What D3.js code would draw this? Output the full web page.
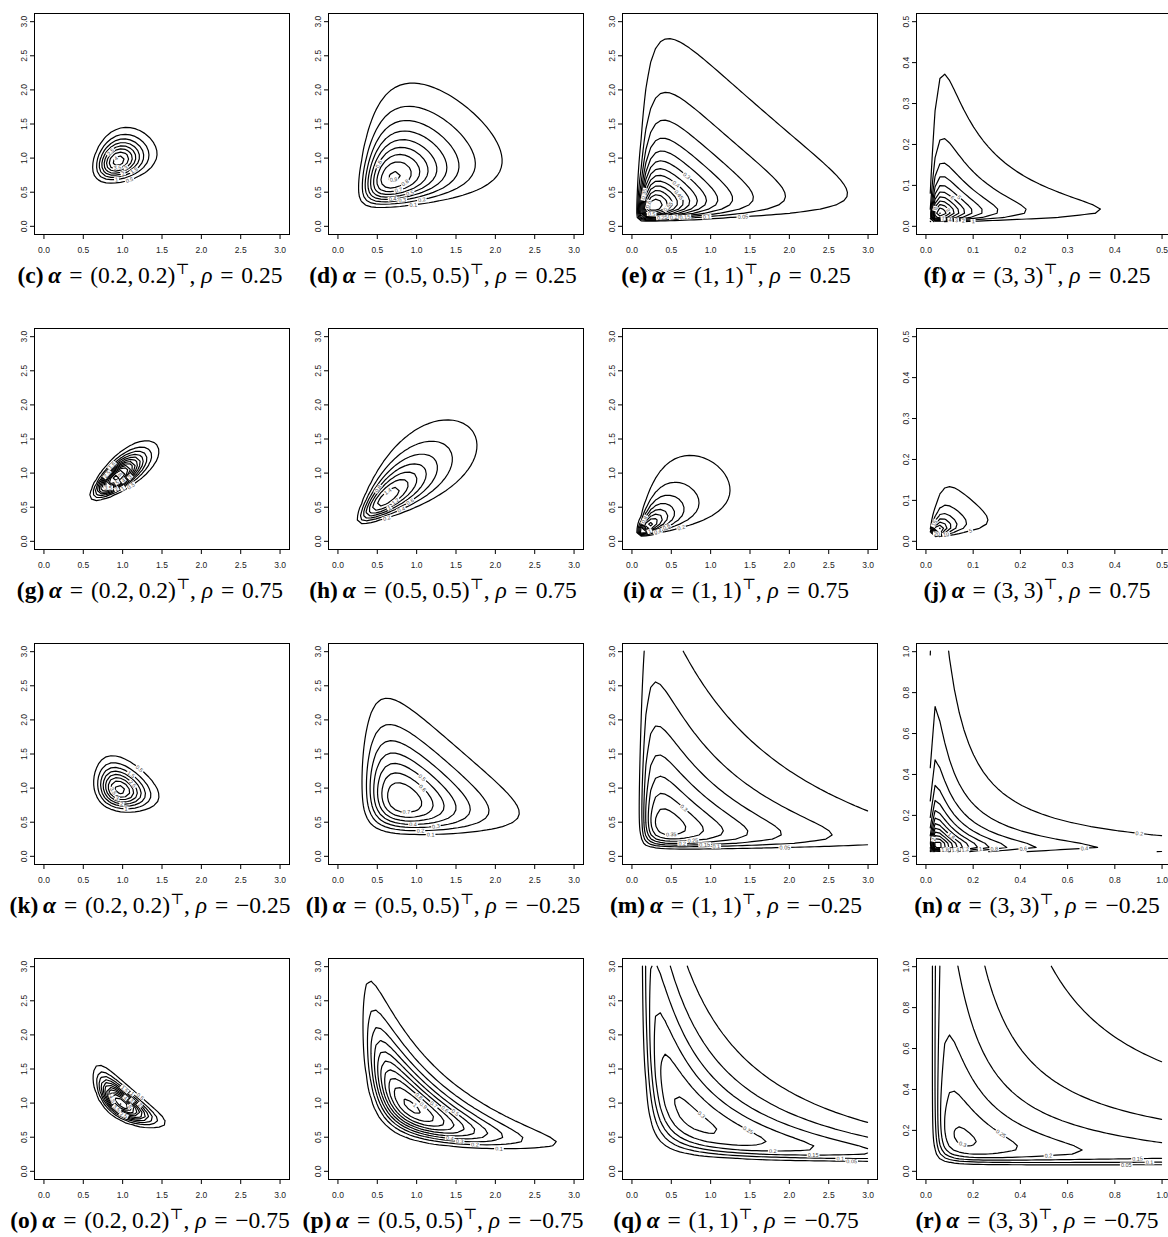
<!DOCTYPE html>
<html><head><meta charset="utf-8">
<script src="https://cdn.jsdelivr.net/npm/d3@7"></script>
<style>body{margin:0;background:#fff}svg{display:block}</style>
</head><body>
<svg id="chart" width="1168" height="1237"></svg>
<script>
// ---------------- data ----------------
const panelLetters = ["c","d","e","f","g","h","i","j","k","l","m","n","o","p","q","r"];
const alphaValues = [0.2, 0.5, 1, 3];                 // one per column, alpha1 = alpha2
const alphaLabels = ["(0.2,\u20090.2)", "(0.5,\u20090.5)", "(1,\u20091)", "(3,\u20093)"];
const rhoValues = [0.25, 0.75, -0.25, -0.75];         // one per row
const rhoLabels = ["0.25", "0.75", "\u22120.25", "\u22120.75"];
const betaValue = 1;
const gridMax = [[3,3,3,0.5],[3,3,3,0.5],[3,3,3,1],[3,3,3,1]];
const gridPoints = 50;                                 // seq(0, max, length = 50); t = 0 is undefined
const ticks03 = ["0.0","0.5","1.0","1.5","2.0","2.5","3.0"];
const ticks05 = ["0.0","0.1","0.2","0.3","0.4","0.5"];
const ticks10 = ["0.0","0.2","0.4","0.6","0.8","1.0"];
const levels_c = [0.5,1,1.5,2,2.5,3,3.5,4];
const levels_d = [0.1,0.2,0.3,0.4,0.5,0.6,0.7,0.8,0.9];
const levels_e = [0.05,0.1,0.15,0.2,0.25,0.3,0.35,0.4,0.45,0.5,0.55,0.6,0.65];
const levels_f = [1,2,3,4,5,6,7,8,9,10,11];
const levels_g = [0.5,1,1.5,2,2.5,3,3.5,4,4.5,5,5.5,6];
const levels_h = [0.2,0.4,0.6,0.8,1,1.2,1.4];
const levels_i = [0.2,0.4,0.6,0.8,1,1.2,1.4,1.6];
const levels_j = [5,10,15,20,25,30,35,40];
const levels_k = [0.5,1,1.5,2,2.5,3,3.5,4];
const levels_l = [0.1,0.2,0.3,0.4,0.5,0.6,0.7,0.8];
const levels_m = [0.05,0.1,0.15,0.2,0.25,0.3,0.35];
const levels_n = [0.2,0.4,0.6,0.8,1,1.2,1.4,1.6,1.8,2,2.2,2.4,2.6];
const levels_o = [0.5,1,1.5,2,2.5,3,3.5,4,4.5,5,5.5,6];
const levels_p = [0.1,0.2,0.3,0.4,0.5,0.6,0.7,0.8,0.9,1];
const levels_q = [0.05,0.1,0.15,0.2,0.25,0.3];
const levels_r = [0.05,0.1,0.15,0.2,0.25,0.3];
const panelLevels = {c:levels_c,d:levels_d,e:levels_e,f:levels_f,g:levels_g,h:levels_h,i:levels_i,j:levels_j,
                     k:levels_k,l:levels_l,m:levels_m,n:levels_n,o:levels_o,p:levels_p,q:levels_q,r:levels_r};

// ---------------- layout ----------------
const colLeft = [34, 328, 622, 916];
const rowTop = [13, 328, 643, 958];
const boxW = 255, boxH = 221;
const capCenter = [150, 443, 736, 1037];
const capBaseline = 49;

// bivariate Birnbaum-Saunders density
function bsDensity(t1, t2, a1, a2, rho) {
  const s1 = Math.sqrt(t1 / betaValue), s2 = Math.sqrt(t2 / betaValue);
  const u1 = (s1 - 1 / s1) / a1, u2 = (s2 - 1 / s2) / a2;
  const d1 = (1 / s1 + 1 / (s1 * s1 * s1)) / (2 * a1 * betaValue);
  const d2 = (1 / s2 + 1 / (s2 * s2 * s2)) / (2 * a2 * betaValue);
  const om = 1 - rho * rho;
  const q = (u1 * u1 - 2 * rho * u1 * u2 + u2 * u2) / om;
  return Math.exp(-q / 2) / (2 * Math.PI * Math.sqrt(om)) * d1 * d2;
}

// turn d3 closed rings into open polylines (drop every piece that touches the padded grid border)
function ringToLines(ring, n) {
  const m = ring.length;
  const onB = p => p[0] <= 0 || p[0] >= n || p[1] <= 0 || p[1] >= n;
  const keep = [];
  for (let i = 0; i < m - 1; i++) keep.push(!(onB(ring[i]) || onB(ring[i + 1])));
  const segs = m - 1;
  const first = keep.indexOf(false);
  if (first < 0) return [ring.slice()];
  const lines = []; let cur = null;
  for (let s = 1; s <= segs; s++) {
    const idx = (first + s) % segs;
    if (keep[idx]) { if (!cur) cur = [ring[idx]]; cur.push(ring[idx + 1]); }
    else if (cur) { lines.push(cur); cur = null; }
  }
  if (cur) lines.push(cur);
  return lines;
}

function polyLen(pts) { let s = 0; for (let i = 1; i < pts.length; i++) s += Math.hypot(pts[i][0]-pts[i-1][0], pts[i][1]-pts[i-1][1]); return s; }

function chooseLabel(pts, w, placed, bx) {
  const cum = [0];
  for (let i = 1; i < pts.length; i++) cum.push(cum[i-1] + Math.hypot(pts[i][0]-pts[i-1][0], pts[i][1]-pts[i-1][1]));
  const total = cum[cum.length - 1];
  if (total < w * 1.6) return null;
  const at = s => {
    let i = d3.bisectLeft(cum, s);
    if (i <= 0) return pts[0];
    if (i >= pts.length) return pts[pts.length - 1];
    const f = (s - cum[i-1]) / ((cum[i] - cum[i-1]) || 1);
    return [pts[i-1][0] + f * (pts[i][0] - pts[i-1][0]), pts[i-1][1] + f * (pts[i][1] - pts[i-1][1])];
  };
  const win = Math.min(Math.max(w * 2.5, 18), total * 0.9);
  let best = null, bestScore = Infinity;
  const step = Math.max(1, total / 300);
  for (let s = win / 2; s <= total - win / 2; s += step) {
    const p1 = at(s - w / 2), p2 = at(s + w / 2);
    const cx = (p1[0] + p2[0]) / 2, cy = (p1[1] + p2[1]) / 2;
    if (cx - w / 2 < bx[0] + 2 || cx + w / 2 > bx[1] - 2 || cy < bx[2] + 3 || cy > bx[3] - 3) continue;
    let ok = true;
    for (const p of placed) { if (Math.hypot(p.x - cx, p.y - cy) < (p.w + w) / 2 * 0.75 + 2.5) { ok = false; break; } }
    if (!ok) continue;
    const q1 = at(s - win / 2), q2 = at(s + win / 2);
    const dx = q2[0] - q1[0], dy = q2[1] - q1[1], len = Math.hypot(dx, dy) || 1;
    let dev = 0;
    for (let t = s - win / 2; t <= s + win / 2; t += win / 12) {
      const q = at(t);
      dev = Math.max(dev, Math.abs((q[0]-q1[0]) * dy - (q[1]-q1[1]) * dx) / len);
    }
    let ang = Math.atan2(p2[1] - p1[1], p2[0] - p1[0]) * 180 / Math.PI;
    if (ang > 90) ang -= 180; if (ang < -90) ang += 180;
    const score = dev + 0.012 * Math.abs(ang);
    if (score < bestScore - 1e-6) { bestScore = score; best = {x: cx, y: cy, ang, w}; }
  }
  return best;
}

const svg = d3.select("#chart");
svg.append("rect").attr("width", 1168).attr("height", 1237).attr("fill", "#fff");

panelLetters.forEach((letter, k) => {
  const r = Math.floor(k / 4), c = k % 4;
  const alpha = alphaValues[c], rho = rhoValues[r], gmax = gridMax[r][c];
  const L = colLeft[c], T = rowTop[r];
  const gstep = gmax / (gridPoints - 1);
  const xs = d3.range(1, gridPoints).map(i => i * gstep);   // drop t = 0
  const n = xs.length;
  const pad = 0.04 * gmax;
  const x = d3.scaleLinear().domain([-pad, gmax + pad]).range([L, L + boxW]);
  const y = d3.scaleLinear().domain([-pad, gmax + pad]).range([T + boxH, T]);

  const values = new Float64Array(n * n);
  for (let j = 0; j < n; j++) for (let i = 0; i < n; i++) values[j * n + i] = bsDensity(xs[i], xs[j], alpha, alpha, rho);

  const levels = panelLevels[letter];
  const contours = d3.contours().size([n, n]).thresholds(levels)(values);
  const toData = v => { const cc = Math.max(0.5, Math.min(n - 0.5, v)); return xs[0] + (cc - 0.5) * gstep; };

  const g = svg.append("g");
  const labelG = svg.append("g");
  const line = d3.line();
  const placed = [];
  const bx = [L, L + boxW, T, T + boxH];
  contours.forEach(ct => {
    let lines = [];
    ct.coordinates.forEach(poly => poly.forEach(ring => { lines = lines.concat(ringToLines(ring, n)); }));
    const scr = lines.filter(ln => ln.length > 1).map(ln => ln.map(p => [x(toData(p[0])), y(toData(p[1]))]));
    scr.forEach(pts => {
      g.append("path").attr("d", line(pts)).attr("fill", "none").attr("stroke", "#000")
        .attr("stroke-width", 1.2).attr("stroke-linejoin", "round").attr("stroke-linecap", "round");
    });
    const txt = String(+ct.value.toFixed(4));
    const fs = 5.5;
    const w = (txt.replace(/\./g, "").length * 0.556 + (txt.includes(".") ? 0.278 : 0)) * fs + 2;
    const sorted = scr.slice().sort((a, b) => polyLen(b) - polyLen(a));
    let spot = null;
    for (const pts of sorted) { spot = chooseLabel(pts, w, placed, bx); if (spot) break; }
    if (!spot) return;
    placed.push(spot);
    const lg = labelG.append("g").attr("transform", `translate(${spot.x.toFixed(2)},${spot.y.toFixed(2)}) rotate(${spot.ang.toFixed(1)})`);
    lg.append("rect").attr("x", -w / 2).attr("y", -2.3).attr("width", w).attr("height", 4.6).attr("fill", "#fff");
    lg.append("text").attr("text-anchor", "middle").attr("dominant-baseline", "central")
      .attr("font-family", "Liberation Sans, Arial, sans-serif").attr("font-size", fs).attr("fill", "#444").text(txt);
  });

  // box
  svg.append("rect").attr("x", L + 0.5).attr("y", T + 0.5).attr("width", boxW).attr("height", boxH)
    .attr("fill", "none").attr("stroke", "#000").attr("stroke-width", 1);

  // axes
  const tl = gmax === 3 ? ticks03 : gmax === 0.5 ? ticks05 : ticks10;
  const tv = tl.map(Number);
  const ax = svg.append("g").attr("transform", `translate(0,${T + boxH + 0.5})`)
    .call(d3.axisBottom(x).tickValues(tv).tickFormat((d, i) => tl[i]).tickSize(4.5).tickSizeOuter(0));
  ax.select(".domain").remove();
  ax.selectAll("text").attr("y", 15.5).attr("dy", null).attr("dominant-baseline", "central")
    .attr("font-family", "Liberation Sans, Arial, sans-serif").attr("font-size", 8.5).attr("fill", "#222");
  const ay = svg.append("g").attr("transform", `translate(${L + 0.5},0)`)
    .call(d3.axisLeft(y).tickValues(tv).tickFormat((d, i) => tl[i]).tickSize(4.5).tickSizeOuter(0));
  ay.select(".domain").remove();
  ay.selectAll("text").attr("x", 0).attr("y", -11).attr("dy", null).attr("text-anchor", "middle")
    .attr("dominant-baseline", "central").attr("transform", "rotate(-90)")
    .attr("font-family", "Liberation Sans, Arial, sans-serif").attr("font-size", 8.5).attr("fill", "#222");
  svg.selectAll(".tick line").attr("stroke", "#000");

  // caption
  const sp = "\u2004";
  const cap = svg.append("text").attr("x", capCenter[c]).attr("y", T + boxH + capBaseline)
    .attr("text-anchor", "middle").attr("font-family", "Liberation Serif, 'DejaVu Serif', serif")
    .attr("font-size", 23.5).attr("fill", "#000");
  cap.append("tspan").attr("font-weight", "bold").text(`(${letter})`);
  cap.append("tspan").text("\u2009");
  cap.append("tspan").attr("font-weight", "bold").attr("font-style", "italic").text("\u03B1");
  cap.append("tspan").text(`${sp}=${sp}${alphaLabels[c]}`);
  cap.append("tspan").attr("font-size", 15).attr("dy", -9).attr("font-family", "DejaVu Serif, serif").attr("fill", "#000").text("\u22A4");
  cap.append("tspan").attr("dy", 9).text(", ");
  cap.append("tspan").attr("font-style", "italic").text("\u03C1");
  cap.append("tspan").text(`${sp}=${sp}${rhoLabels[r]}`);
});
</script>
</body></html>
